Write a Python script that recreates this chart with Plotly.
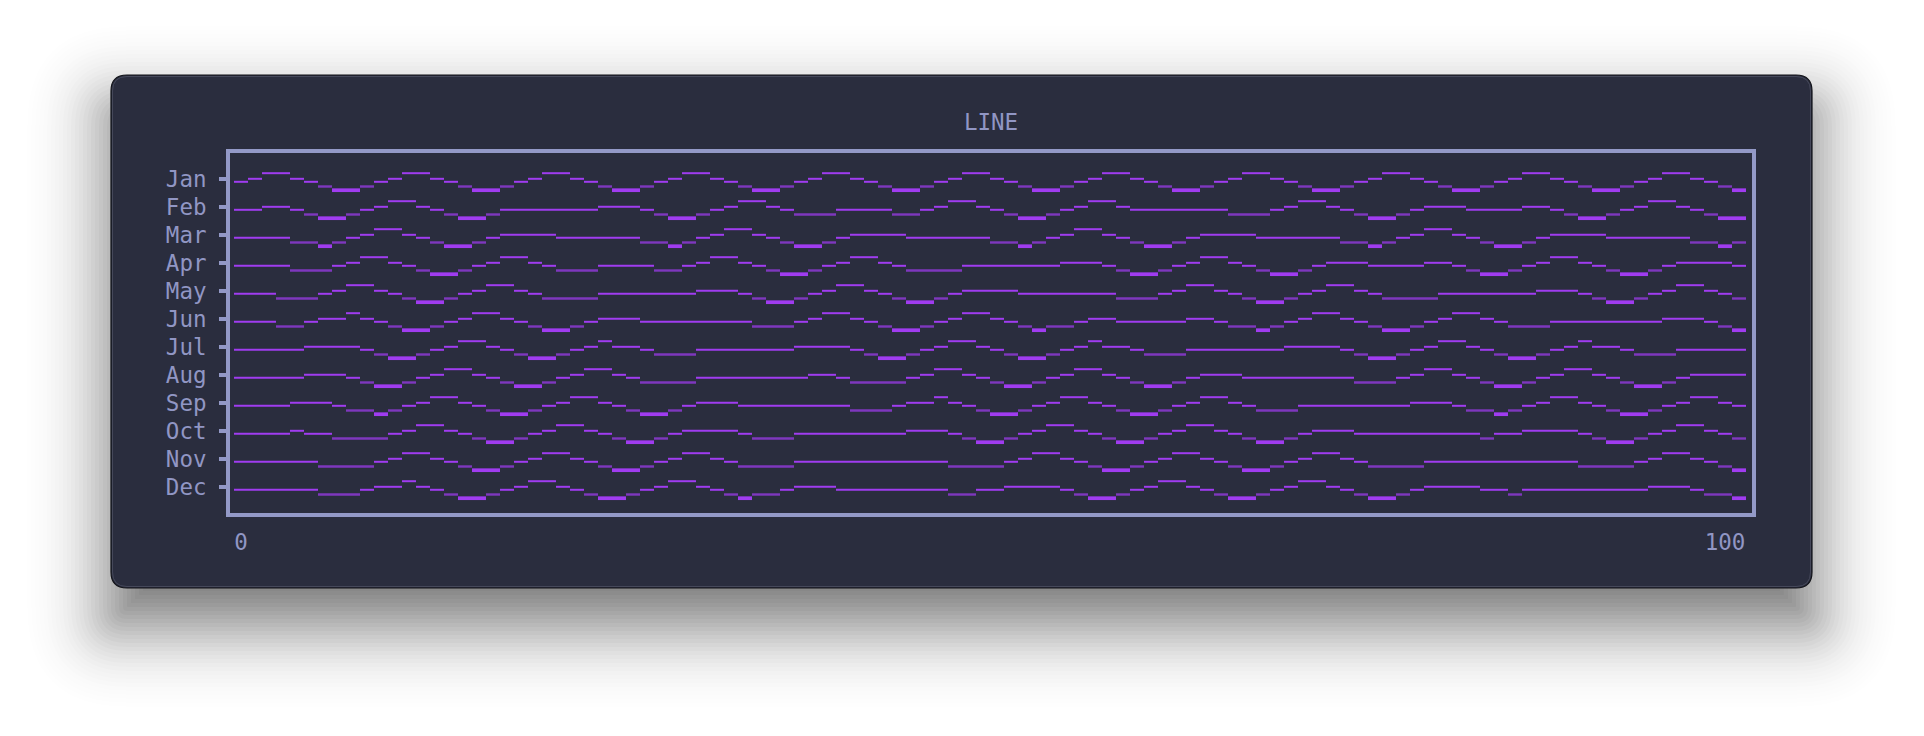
import math
import plotly.graph_objects as go

# ---------------- data ----------------
MONTHS = ["Jan", "Feb", "Mar", "Apr", "May", "Jun",
          "Jul", "Aug", "Sep", "Oct", "Nov", "Dec"]

# per character cell level of each month's line (0 = lowest glyph, 4 = highest)
JAN = [int(c) for c in ("2344321001" "2344321001" "2344321001" "2344321001" "2344321001"
                        "2344321001" "2344321001" "2344321001" "2344321001" "2344321001" "23443210")]
FEB = [int(c) for c in ("2233210012" "3443210012" "2222223332" "1001234432" "1112222112"
                        "3443210012" "3443222222" "2111234432" "1001233322" "2233210012" "34432100")]
MAR = [int(c) for c in ("2222110123" "4432100123" "3332222221" "1012344321" "0012333322"
                        "2222110123" "4432100123" "3332222221" "1012344321" "0012333322" "22221101")]
APR = [int(c) for c in ("2222111234" "4321001234" "4321112222" "1123443210" "0123443211"
                        "1122222223" "3321001234" "4321001233" "3222233210" "0123443210" "01233332")]
MAY = [int(c) for c in ("2221112344" "3210012344" "3211112222" "2223332100" "1234432100"
                        "1233332222" "2221112344" "3210012344" "3211112222" "2223332100" "12344321")]
JUN = [int(c) for c in ("2221123343" "2100123443" "2100123332" "2222222111" "2344321001"
                        "2344321011" "2332222233" "2110123443" "2100123443" "2111222222" "22333210")]
JUL = [int(c) for c in ("2222233332" "1001234432" "1001234332" "1112222222" "3333210012"
                        "3443210012" "3433211122" "2222233332" "1001234432" "1001234332" "11122222")]
AUG = [int(c) for c in ("2222233321" "0012344321" "0012344321" "1112222222" "2332111123"
                        "4432100123" "4432100123" "3322222222" "1112344321" "0012344321" "00123333")]
SEP = [int(c) for c in ("2222333211" "0123443210" "0123443210" "0123332222" "2222111233"
                        "4321001234" "4321001234" "4321112222" "2222333211" "0123443210" "01234432")]
OCT = [int(c) for c in ("2222322111" "1234432100" "1234432100" "1233332111" "2222222233"
                        "3210012344" "3210012344" "3210012333" "2222222221" "2233332100" "12344321")]
NOV = [int(c) for c in ("2222221111" "2344321001" "2344321001" "2344321111" "2222222222"
                        "2111123443" "2100123443" "2100123443" "2111122222" "2222221111" "23443210")]
DEC = [int(c) for c in ("2222221112" "3343210012" "3443210012" "3443210112" "3332222222"
                        "2112233332" "1001234432" "1001234432" "1001233332" "2122222222" "23332110")]

SERIES = [JAN, FEB, MAR, APR, MAY, JUN, JUL, AUG, SEP, OCT, NOV, DEC]
X_TICK_LABELS = ["0", "100"]
TITLE = "LINE"

# ---------------- styling ----------------
W, H = 1924, 736
ML, MR, MT, MB = 228, W - 1754, 151, H - 515
PW, PH = W - ML - MR, H - MT - MB
ROW_PX = 28.0
CELL_PX = 14.0
FIRST_CELL_PX = 234.0
ROW0_PX = 181.8

# glyph vertical offsets (in row units) for levels 0..4
OFFSET = {0: 8.4 / ROW_PX, 1: 4.7 / ROW_PX, 2: 0.0, 3: -3.0 / ROW_PX, 4: -8.6 / ROW_PX}

BG_PANEL = "#2a2d3e"
LAV = "#9399c7"
TXT = "#9196c4"
PURPLE = "#a03cf0"
FONT = "DejaVu Sans Mono"
FSIZE = 22.5

x_lo = (ML - FIRST_CELL_PX) / CELL_PX
x_hi = (ML + PW - FIRST_CELL_PX) / CELL_PX
y_top = (MT - ROW0_PX) / ROW_PX
y_bot = y_top + PH / ROW_PX


def px2paper(x, y):
    return (x - ML) / PW, 1 - (y - MT) / PH


def rrect(x0, y0, x1, y1, r):
    r = max(0.5, min(r, (x1 - x0) / 2, (y1 - y0) / 2))
    pts = [("M", [(x0 + r, y0)]), ("L", [(x1 - r, y0)]), ("Q", [(x1, y0), (x1, y0 + r)]),
           ("L", [(x1, y1 - r)]), ("Q", [(x1, y1), (x1 - r, y1)]),
           ("L", [(x0 + r, y1)]), ("Q", [(x0, y1), (x0, y1 - r)]),
           ("L", [(x0, y0 + r)]), ("Q", [(x0, y0), (x0 + r, y0)])]
    s = ""
    for cmd, ps in pts:
        s += cmd + " " + " ".join("%.6f,%.6f" % px2paper(px, py) for px, py in ps) + " "
    return s + "Z"


shapes = []
# soft drop shadow (stacked translucent rounded rects)
PX0, PY0, PX1, PY1, PR = 111, 75, 1812, 588, 16
sigma, alpha, dy = 40.0, 0.56, 35
exps = list(range(120, -124, -4))
c_prev = 0.0
for e in exps:
    t = alpha * 0.5 * math.erfc(e / (sigma * math.sqrt(2)))
    a = 1 - (1 - t) / (1 - c_prev)
    c_prev = t
    if a <= 0.0005:
        continue
    shapes.append(dict(type="path", xref="paper", yref="paper", layer="below",
                       path=rrect(PX0 - e, PY0 + dy - e, PX1 + e, PY1 + dy + e, PR + e),
                       fillcolor="rgba(0,0,0,%.4f)" % a, line=dict(width=0)))
# panel
shapes.append(dict(type="path", xref="paper", yref="paper", layer="below",
                   path=rrect(PX0, PY0, PX1, PY1, PR), fillcolor=BG_PANEL,
                   line=dict(color="#121319", width=1.2)))
shapes.append(dict(type="path", xref="paper", yref="paper", layer="below",
                   path=rrect(PX0 + 1.5, PY0 + 1.5, PX1 - 1.5, PY1 - 1.5, PR - 1.5),
                   fillcolor="rgba(0,0,0,0)", line=dict(color="#45485a", width=1)))
# chart frame
fx0, fy1 = px2paper(228, 151)
fx1, fy0 = px2paper(1754, 515)
shapes.append(dict(type="rect", xref="paper", yref="paper", layer="above",
                   x0=fx0, x1=fx1, y0=fy0, y1=fy1, line=dict(color=LAV, width=4)))

fig = go.Figure()

STYLES = {
    "main": dict(levels=(2, 3, 4), color=PURPLE, width=2.0),
    "low": dict(levels=(1,), color="rgba(160,60,240,0.72)", width=2.4),
    "bottom": dict(levels=(0,), color=PURPLE, width=3.7),
}

for r, (name, vals) in enumerate(zip(MONTHS, SERIES)):
    for sname, st in STYLES.items():
        xs, ys = [], []
        k = 0
        n = len(vals)
        while k < n:
            lv = vals[k]
            j = k
            while j + 1 < n and vals[j + 1] == lv:
                j += 1
            if lv in st["levels"]:
                yv = r + OFFSET[lv]
                xs += [k, j + 1, None]
                ys += [yv, yv, None]
            k = j + 1
        fig.add_trace(go.Scatter(x=xs, y=ys, mode="lines", name=name,
                                 line=dict(color=st["color"], width=st["width"]),
                                 hoverinfo="skip", showlegend=False))

fig.update_layout(
    width=W, height=H,
    margin=dict(l=ML, r=MR, t=MT, b=MB, pad=0),
    paper_bgcolor="#ffffff",
    plot_bgcolor="rgba(0,0,0,0)",
    shapes=shapes,
    title=dict(text=TITLE, x=0.5, xref="paper", xanchor="center",
               y=1 - 121.7 / H, yref="container", yanchor="middle",
               font=dict(family=FONT, size=FSIZE, color=TXT)),
    font=dict(family=FONT, size=FSIZE, color=TXT),
    showlegend=False,
)
fig.update_xaxes(range=[x_lo, x_hi], showgrid=False, zeroline=False, showline=False,
                 tickmode="array", tickvals=[0.5, len(JAN) - 1.5], ticktext=X_TICK_LABELS,
                 ticks="", tickfont=dict(family=FONT, size=FSIZE, color=TXT),
                 ticklabelstandoff=11, fixedrange=True)
fig.update_yaxes(range=[y_bot, y_top], showgrid=False, zeroline=False, showline=False,
                 tickmode="array", tickvals=[i + OFFSET[3] for i in range(len(MONTHS))],
                 ticktext=MONTHS, ticks="outside", ticklen=8, tickwidth=4, tickcolor=LAV,
                 tickfont=dict(family=FONT, size=FSIZE, color=TXT),
                 ticklabelstandoff=8, fixedrange=True)

fig.write_html("out.html")
